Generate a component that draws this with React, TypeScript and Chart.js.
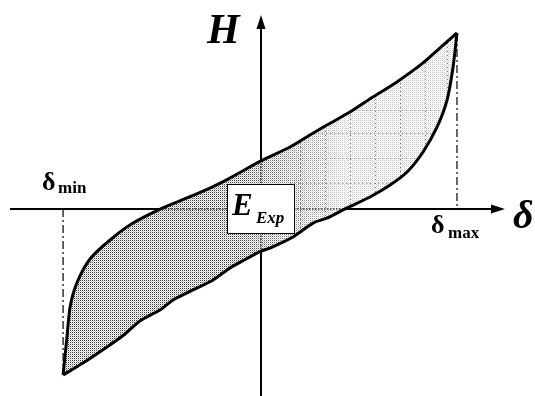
import React, { useEffect, useRef } from "react";
import { Chart, registerables } from "chart.js";

Chart.register(...registerables);

// Loop end points
const DELTA_MIN = -101.5;
const DELTA_MAX = 100.5;
const H_AT_DELTA_MIN = -94.3;
const H_AT_DELTA_MAX = 100;

// Unloading branch (upper edge of the loop), from δmax back to δmin
const upperDelta = [100.5, 91.8, 83.1, 69.7, 57.4, 45.6, 33.8, 25.1, 14.9, 0, -16.9, -26.2, -37.9, -50.3, -65.6, -77.4, -87.7, -94.4, -97.9, -99.5, -101.5];
const upperH = [100, 91.5, 83.0, 72.2, 63.6, 55.1, 47.7, 42.0, 35.2, 27.3, 17.0, 11.9, 6.3, 0.6, -8.0, -17.6, -28.4, -42.0, -55.7, -72.7, -94.3];

// Loading branch (lower edge of the loop), from δmin up to δmax
const lowerDelta = [-101.5, -91.3, -79.0, -69.7, -62.1, -51.8, -45.1, -34.9, -24.6, -15.9, -10.8, 0, 4.6, 16.4, 26.7, 33.8, 44.1, 55.9, 66.2, 74.9, 83.1, 90.3, 95.4, 98.5, 100.5];
const lowerH = [-94.3, -87.5, -78.4, -71.0, -63.6, -57.4, -51.7, -46.0, -40.3, -33.5, -30.3, -23.9, -22.2, -15.9, -8.0, -5.2, 0.6, 6.8, 13.6, 21.0, 32.4, 46.6, 61.9, 80.7, 100];

// Visible window and axis extents
const DELTA_RANGE = [-133.85, 140.51];
const H_RANGE = [-106.25, 118.75];
const AXIS_DELTA_FROM = -128.7;
const AXIS_DELTA_TO = 125.1;
const AXIS_H_TO = 110.2;

// Light dotted mesh in the right part of the shaded area
const meshDelta = [20, 32.8, 45.6, 58.5, 71.3, 84.1, 95.4];
const meshH = [14.5, 29, 43, 56];

const toPoints = (xs: number[], ys: number[]) => xs.map((x, i) => ({ x, y: ys[i] }));

const SERIF = '"Liberation Serif", "Times New Roman", serif';

function makeStipple(): CanvasPattern | string {
  const tile = document.createElement("canvas");
  tile.width = 2;
  tile.height = 2;
  const t = tile.getContext("2d");
  if (!t) return "#c8c8c8";
  t.fillStyle = "#ffffff";
  t.fillRect(0, 0, 2, 2);
  t.fillStyle = "#3a3a3a";
  t.fillRect(0, 0, 1, 1);
  t.fillStyle = "#c4c4c4";
  t.fillRect(1, 1, 1, 1);
  const ctx = document.createElement("canvas").getContext("2d");
  const p = ctx ? ctx.createPattern(tile, "repeat") : null;
  return p || "#c8c8c8";
}

function branchPath(path: Path2D, meta: any, first: boolean) {
  const pts = meta.data as any[];
  pts.forEach((p, i) => {
    if (i === 0) {
      if (first) path.moveTo(p.x, p.y);
      else path.lineTo(p.x, p.y);
      return;
    }
    const prev = pts[i - 1];
    path.bezierCurveTo(prev.cp2x ?? prev.x, prev.cp2y ?? prev.y, p.cp1x ?? p.x, p.cp1y ?? p.y, p.x, p.y);
  });
}

function loopPath(chart: any): Path2D {
  const path = new Path2D();
  branchPath(path, chart.getDatasetMeta(0), true);
  branchPath(path, chart.getDatasetMeta(1), false);
  path.closePath();
  return path;
}

const hysteresisPlugin = {
  id: "hysteresisDecor",
  beforeDatasetsDraw(chart: any) {
    const { ctx, scales } = chart;
    const xs = scales.x;
    const ys = scales.y;
    const x0 = xs.getPixelForValue(0);
    const y0 = ys.getPixelForValue(0);
    const xEnd = xs.getPixelForValue(AXIS_DELTA_TO);
    const yTop = ys.getPixelForValue(AXIS_H_TO);

    ctx.save();
    // Coordinate axes with arrowheads
    ctx.strokeStyle = "#000";
    ctx.fillStyle = "#000";
    ctx.lineWidth = 2;
    ctx.beginPath();
    ctx.moveTo(xs.getPixelForValue(AXIS_DELTA_FROM), y0);
    ctx.lineTo(xEnd - 10, y0);
    ctx.moveTo(x0, ys.getPixelForValue(H_RANGE[0]));
    ctx.lineTo(x0, yTop + 10);
    ctx.stroke();
    ctx.beginPath();
    ctx.moveTo(xEnd, y0);
    ctx.lineTo(xEnd - 14, y0 - 4.5);
    ctx.lineTo(xEnd - 14, y0 + 4.5);
    ctx.closePath();
    ctx.fill();
    ctx.beginPath();
    ctx.moveTo(x0, yTop);
    ctx.lineTo(x0 - 4.5, yTop + 14);
    ctx.lineTo(x0 + 4.5, yTop + 14);
    ctx.closePath();
    ctx.fill();

    // Stippled area enclosed by the loop
    const path = loopPath(chart);
    ctx.fillStyle = makeStipple();
    ctx.fill(path);
    const gx1 = xs.getPixelForValue(-10);
    const gx2 = xs.getPixelForValue(42);
    const fade = ctx.createLinearGradient(gx1, 0, gx2, 0);
    fade.addColorStop(0, "rgba(255,255,255,0)");
    fade.addColorStop(1, "rgba(255,255,255,0.72)");
    ctx.fillStyle = fade;
    ctx.fill(path);

    ctx.save();
    ctx.clip(path);
    // faint dotted mesh
    ctx.strokeStyle = "rgba(80,80,80,0.8)";
    ctx.lineWidth = 1;
    ctx.setLineDash([1, 3]);
    ctx.beginPath();
    meshDelta.forEach((d) => {
      const px = Math.round(xs.getPixelForValue(d)) + 0.5;
      ctx.moveTo(px, ys.getPixelForValue(H_RANGE[0]));
      ctx.lineTo(px, ys.getPixelForValue(H_RANGE[1]));
    });
    meshH.forEach((h) => {
      const py = Math.round(ys.getPixelForValue(h)) + 0.5;
      ctx.moveTo(xs.getPixelForValue(15), py);
      ctx.lineTo(xs.getPixelForValue(DELTA_RANGE[1]), py);
    });
    ctx.stroke();
    // axes show through the shading as dotted lines
    ctx.strokeStyle = "#333";
    ctx.lineWidth = 1.6;
    ctx.setLineDash([1.5, 1.5]);
    ctx.beginPath();
    ctx.moveTo(xs.getPixelForValue(DELTA_RANGE[0]), y0);
    ctx.lineTo(xs.getPixelForValue(DELTA_RANGE[1]), y0);
    ctx.moveTo(x0, ys.getPixelForValue(H_RANGE[0]));
    ctx.lineTo(x0, ys.getPixelForValue(H_RANGE[1]));
    ctx.stroke();
    ctx.restore();
    ctx.restore();
  },
  afterDraw(chart: any) {
    const { ctx, scales } = chart;
    const xs = scales.x;
    const ys = scales.y;
    const x0 = xs.getPixelForValue(0);
    const y0 = ys.getPixelForValue(0);
    const xMin = xs.getPixelForValue(DELTA_MIN);
    const xMax = xs.getPixelForValue(DELTA_MAX);

    ctx.save();
    ctx.textBaseline = "alphabetic";
    ctx.textAlign = "left";

    // Energy label box at the origin
    ctx.fillStyle = "#fff";
    ctx.fillRect(x0 - 34, y0 - 25, 68, 50);
    ctx.strokeStyle = "#000";
    ctx.lineWidth = 1;
    ctx.strokeRect(x0 - 33.5, y0 - 24.5, 67, 49);
    ctx.fillStyle = "#000";
    ctx.font = `italic bold 31px ${SERIF}`;
    ctx.fillText("E", x0 - 29, y0 + 6);
    ctx.font = `italic bold 17px ${SERIF}`;
    ctx.fillText("Exp", x0 - 5, y0 + 14);

    // Axis titles
    ctx.font = `italic bold 42px ${SERIF}`;
    ctx.fillText("H", x0 - 54, ys.getPixelForValue(AXIS_H_TO) + 28);
    ctx.font = `italic bold 40px ${SERIF}`;
    ctx.fillText("δ", xs.getPixelForValue(AXIS_DELTA_TO) + 8, y0 + 19);

    // δmin / δmax markers
    ctx.font = `bold 26px ${SERIF}`;
    ctx.fillText("δ", xMin - 21, y0 - 19);
    ctx.fillText("δ", xMax - 26, y0 + 24);
    ctx.font = `bold 17px ${SERIF}`;
    ctx.fillText("min", xMin - 5, y0 - 16);
    ctx.fillText("max", xMax - 9, y0 + 29);
    ctx.restore();
  },
};

export default function App() {
  const canvasRef = useRef<HTMLCanvasElement | null>(null);

  useEffect(() => {
    const canvas = canvasRef.current;
    if (!canvas) return;
    const branchStyle = {
      showLine: true,
      borderColor: "#000",
      borderWidth: 3,
      pointRadius: 0,
      tension: 0.25,
      fill: false,
    };
    const guideStyle = {
      showLine: true,
      borderColor: "#000",
      borderWidth: 1.2,
      borderDash: [8, 3, 2, 3],
      pointRadius: 0,
      fill: false,
    };
    const chart = new Chart(canvas, {
      type: "scatter",
      data: {
        datasets: [
          { ...branchStyle, label: "unloading", data: toPoints(upperDelta, upperH) },
          { ...branchStyle, label: "loading", data: toPoints(lowerDelta, lowerH) },
          {
            ...guideStyle,
            label: "δmax",
            data: [
              { x: DELTA_MAX, y: H_AT_DELTA_MAX },
              { x: DELTA_MAX, y: 0 },
            ],
          },
          {
            ...guideStyle,
            label: "δmin",
            data: [
              { x: DELTA_MIN, y: 0 },
              { x: DELTA_MIN, y: H_AT_DELTA_MIN },
            ],
          },
        ],
      },
      options: {
        animation: false,
        responsive: false,
        devicePixelRatio: 1,
        layout: { padding: 0 },
        plugins: { legend: { display: false }, tooltip: { enabled: false } },
        events: [],
        scales: {
          x: { type: "linear", display: false, min: DELTA_RANGE[0], max: DELTA_RANGE[1] },
          y: { type: "linear", display: false, min: H_RANGE[0], max: H_RANGE[1] },
        },
      },
      plugins: [hysteresisPlugin],
    });
    return () => chart.destroy();
  }, []);

  return (
    <div style={{ position: "absolute", left: 0, top: 0, width: 535, height: 396, background: "#fff" }}>
      <canvas ref={canvasRef} width={535} height={396} style={{ display: "block" }} />
    </div>
  );
}
